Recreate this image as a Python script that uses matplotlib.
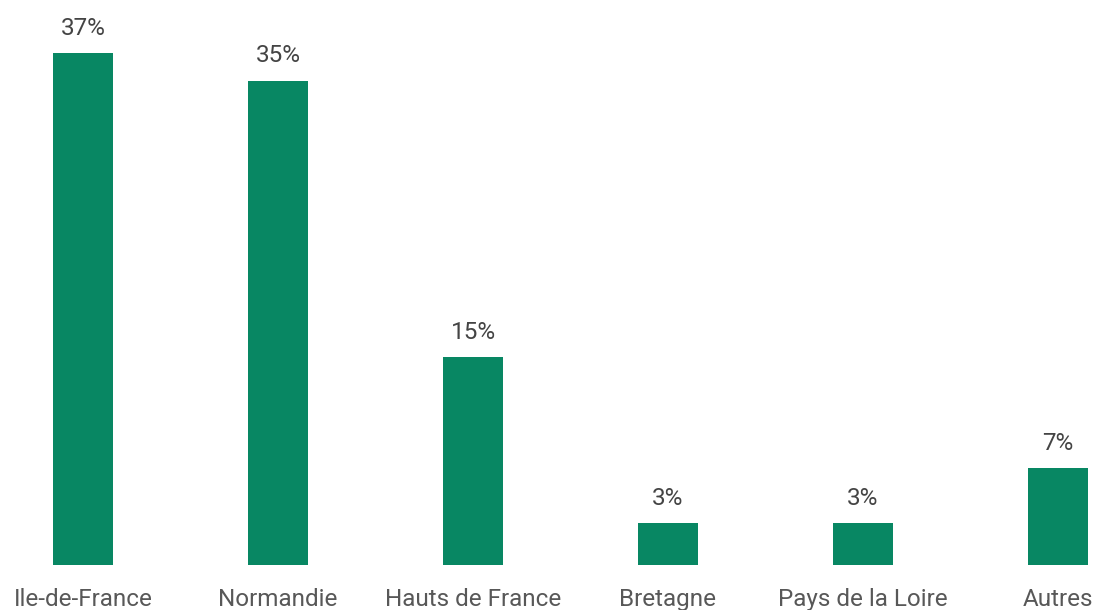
import matplotlib
matplotlib.use("Agg")
import matplotlib.pyplot as plt

categories = ["Ile-de-France", "Normandie", "Hauts de France", "Bretagne", "Pays de la Loire", "Autres"]
values = [37, 35, 15, 3, 3, 7]
value_labels = ["37%", "35%", "15%", "3%", "3%", "7%"]

plt.rcParams['font.family'] = ['Roboto', 'DejaVu Sans']

fig = plt.figure(figsize=(10.96, 6.10), dpi=100)
ax = fig.add_axes([53/1096, 1 - 565/610, 1035/1096, 565/610])
bw = 0.31
x = list(range(len(categories)))
ax.bar(x, values, width=bw, color="#088763")
ax.set_xlim(-bw/2, len(categories) - 1 + bw/2)
ax.set_ylim(0, 37 * 565 / 512)
for xi, v, lab in zip(x, values, value_labels):
    ax.annotate(lab, (xi, v), xytext=(0, 25), textcoords="offset pixels",
                ha="center", va="center", fontsize=17.5, color="#444444")
ax.set_xticks(x)
ax.set_xticklabels(categories, fontsize=17.5, color="#585858")
ax.tick_params(axis="x", length=0, pad=16.5)
ax.set_yticks([])
for s in ax.spines.values():
    s.set_visible(False)
fig.savefig("out.png", dpi=100)
